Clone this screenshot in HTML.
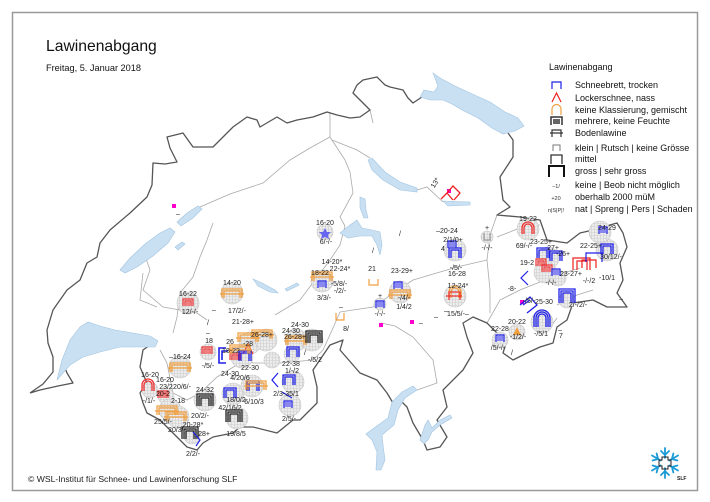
<!DOCTYPE html>
<html>
<head>
<meta charset="utf-8">
<style>
  html,body{margin:0;padding:0;background:#fff;}
  body{width:710px;height:502px;overflow:hidden;}
  svg{display:block;}
  .t{font-family:"Liberation Sans",Arial,sans-serif;font-size:7px;fill:#222;text-anchor:middle;}
  .lg{font-family:"Liberation Sans",Arial,sans-serif;font-size:9px;fill:#111;}
  .sm{font-family:"Liberation Sans",Arial,sans-serif;font-size:5.5px;fill:#333;text-anchor:middle;}
</style>
</head>
<body>
<svg width="710" height="502" viewBox="0 0 710 502" xmlns="http://www.w3.org/2000/svg">
  <defs>
    <pattern id="hatch" width="3" height="3" patternUnits="userSpaceOnUse">
      <rect width="3" height="3" fill="#ececec"/>
      <path d="M0,0.5 H3 M0.5,0 V3" stroke="#cfcfcf" stroke-width="0.6"/>
    </pattern>
    <g id="c11"><circle r="11" fill="url(#hatch)" stroke="#c4c4c4" stroke-width="0.6"/></g>
    <g id="c8"><circle r="8" fill="url(#hatch)" stroke="#c4c4c4" stroke-width="0.6"/></g>
    <g id="c6"><circle r="6" fill="url(#hatch)" stroke="#c4c4c4" stroke-width="0.6"/></g>
    <g id="bB"><path d="M-6,5 V-5 H6 V5 M-4,5 V-3 H4 V5" fill="none" stroke="#2020e8" stroke-width="1.3"/></g>
    <g id="bBL"><path d="M-8,7 V-7 H8 V7 M-6,7 V-5 H6 V7 M-4,7 V-3 H4 V7" fill="none" stroke="#2020e8" stroke-width="1.3"/></g>
    <g id="bBs"><path d="M-4,4 V-3 H4 V4" fill="none" stroke="#2020e8" stroke-width="1.2"/><rect x="-3" y="-2" width="6" height="5" fill="#8888f0"/></g>
    <g id="bO"><path d="M-10,5 V-4 H10 V5 M-8,5 V-2 H8 V5 M-12,1 H12" fill="none" stroke="#f0a040" stroke-width="1.3"/></g>
    <g id="bOs"><path d="M-5,4 V-3 H5 V4 M-7,1 H7" fill="none" stroke="#f0a040" stroke-width="1.2"/></g>
    <g id="bK"><path d="M-8,6 V-6 H8 V6 M-6,6 V-4 H6 V6 M-4,6 V-2 H4 V6" fill="none" stroke="#222" stroke-width="1.3"/></g>
    <g id="bR"><path d="M-5,4 V-3 H5 V4 M-3,4 V-1 H3 V4" fill="none" stroke="#ee3030" stroke-width="1.2"/><rect x="-2" y="0" width="4" height="4" fill="#f08080"/></g>
    <g id="aR"><path d="M-6,6 V0 A6,6 0 0 1 6,0 V6 M-4,6 V0 A4,4 0 0 1 4,0 V6" fill="none" stroke="#ee3030" stroke-width="1.3"/></g>
    <g id="aO"><path d="M-6,6 V0 A6,6 0 0 1 6,0 V6 M-4,6 V0 A4,4 0 0 1 4,0 V6" fill="none" stroke="#f0a040" stroke-width="1.3"/></g>
    <g id="aB"><path d="M-8,9 V0 A8,8 0 0 1 8,0 V9 M-6,9 V0 A6,6 0 0 1 6,0 V9 M-4,9 V0 A4,4 0 0 1 4,0 V9" fill="none" stroke="#2020e8" stroke-width="1.3"/></g>
  </defs>

  <!-- frame -->
  <rect x="12.5" y="12.5" width="685" height="478" fill="#fff" stroke="#9a9a9a" stroke-width="1.5"/>

  <!-- title -->
  <text x="46" y="51" style="font-family:'Liberation Sans',Arial,sans-serif;font-size:15.7px;fill:#111;">Lawinenabgang</text>
  <text x="46" y="71" style="font-family:'Liberation Sans',Arial,sans-serif;font-size:9.2px;fill:#111;">Freitag, 5. Januar 2018</text>

  <!-- canton borders -->
  <g fill="none" stroke="#aaaaaa" stroke-width="0.8">
    <path d="M330,113 L330,137 L310,148 L290,160 L263,183 L230,194 L200,207 L190,216"/>
    <path d="M330,137 L345,160 L350,172 L353,193 L340,217 L345,226"/>
    <path d="M332,140 L357,150 L370,158"/>
    <path d="M370,110 L373,123"/>
    <path d="M417,190 L427,187 L443,202"/>
    <path d="M143,273 L140,300 L157,307"/>
    <path d="M173,333 L177,317 L180,293 L193,277 L200,257 L207,240 L213,223"/>
    <path d="M160,350 L167,363 L173,393 L187,400 L200,393 L217,377 L245,360 L253,363 L280,363 L313,360 L323,350 L333,328 L340,312"/>
    <path d="M340,312 L373,307 L413,280 L457,267 L487,260"/>
    <path d="M381,323 L395,326 L413,337 L433,360 L437,383 L417,390"/>
    <path d="M497,215 L490,235 L487,260 L490,290 L490,313"/>
    <path d="M143,250 L150,270 L143,290 L163,307 L197,313 L207,320"/>
    <path d="M345,226 L340,245 L330,260 L300,300 L275,315"/>
    <path d="M487,323 L500,300 L520,290 L540,282 L557,275 L580,268"/>
    <path d="M557,305 L577,295 L593,290"/>
    <path d="M557,318 L547,332"/>
    <path d="M497,237 L520,228 L540,225"/>
  </g>

  <!-- country outline -->
  <path fill="none" stroke="#555" stroke-width="1.3" stroke-linejoin="round" d="
    M30,393 L43,384 L53,372 L53,357 L48,343 L47,330 L53,310 L67,290 L80,280 L87,263 L97,257 L100,243 L110,230 L130,213 L147,197 L152,185
    L153,163 L165,164 L177,162 L170,148 L167,137 L183,133 L193,147 L213,147 L227,133 L233,127 L247,117 L257,120 L260,127 L277,117 L287,123 L297,120 L313,117 L327,112 L337,115 L350,118 L360,117 L370,110 L363,103 L353,93 L357,85 L363,80 L377,77 L385,85 L390,87 L403,90 L408,98 L413,103 L422,97
    M508,133 L513,140 L513,157 L500,177 L503,200 L510,207 L497,215 L520,217 L540,220 L547,240 L567,243 L580,233 L593,230 L603,227 L617,223 L623,233 L627,247 L620,263 L623,280 L617,293 L627,307 L607,307 L593,300 L573,303 L567,320 L557,327 L553,343 L540,347 L527,353 L513,360 L503,353 L507,340 L497,333 L487,323 L473,317 L463,323 L467,337 L473,353 L463,370 L443,390 L447,407 L437,420 L447,437 L440,447 L427,450 L423,440 L413,423 L407,407 L400,400 L393,403 L387,393 L377,380 L360,373 L340,350 L343,340 L330,345 L313,370 L317,387 L317,403 L300,420 L293,420 L277,433 L253,427 L240,427 L233,433 L213,437 L203,443 L197,450 L187,447 L180,440 L167,427 L160,420 L147,413 L143,403 L140,393 L147,383 L140,367 L143,350 L150,345
    M65,368 L67,373 L73,383 L58,386 L40,390 L30,393"/>

  <!-- lakes -->
  <g fill="#c9e0f3" stroke="#a2c4e0" stroke-width="0.6">
    <path d="M57,380 L62,360 L70,340 L80,327 L88,322 L100,326 L115,330 L133,333 L150,336 L158,341 L155,347 L140,347 L120,347 L100,352 L83,357 L70,365 Z"/>
    <path d="M120,270 L130,258 L145,244 L160,233 L170,228 L175,232 L168,243 L153,256 L137,267 L125,273 Z"/>
    <path d="M177,222 L187,213 L198,206 L202,209 L193,218 L181,226 Z"/>
    <path d="M175,247 L182,242 L185,244 L178,250 Z"/>
    <path d="M368,160 L372,158 L385,172 L400,182 L417,188 L417,192 L400,190 L383,180 L372,170 Z"/>
    <path d="M443,201 L470,202 L470,205 L448,206 Z"/>
    <path d="M360,197 L365,199 L366,210 L368,218 L364,218 L360,208 Z"/>
    <path d="M340,233 L350,225 L357,220 L362,228 L372,230 L380,232 L382,245 L380,255 L377,245 L372,236 L360,236 L348,238 Z"/>
    <path d="M253,279 L262,283 L275,290 L278,293 L270,292 L258,286 Z"/>
    <path d="M285,289 L297,283 L299,285 L287,291 Z"/>
    <path d="M413,386 L417,390 L405,398 L398,410 L394,425 L382,435 L383,445 L385,460 L381,470 L376,470 L377,452 L372,440 L366,434 L374,428 L388,418 L392,402 L402,392 Z"/>
    <path d="M420,440 L425,425 L428,420 L432,428 L440,420 L450,415 L452,418 L440,425 L432,432 L428,440 L424,444 Z"/>
    <path d="M433,73 L440,78 L455,86 L470,93 L490,102 L505,112 L518,118 L524,126 L515,131 L503,134 L492,128 L478,118 L462,110 L452,104 L443,100 L430,100 L420,97 L424,90 L434,92 L438,86 Z"/>
  </g>

  <!-- pink markers -->
  <g fill="#ff00cc">
    <rect x="172" y="204" width="4" height="4"/>
    <rect x="447" y="189" width="4" height="4"/>
    <rect x="379" y="323" width="4" height="4"/>
    <rect x="410" y="320" width="4" height="4"/>
    <rect x="520" y="300" width="4" height="4"/>
  </g>

  <!-- stations: circles -->
  <use href="#c11" x="188" y="303"/>
  <use href="#c11" x="232" y="293"/>
  <use href="#c11" x="180" y="367"/>
  <use href="#c8" x="208" y="352"/>
  <use href="#c11" x="250" y="343"/>
  <use href="#c11" x="266" y="340"/>
  <use href="#c11" x="242" y="357"/>
  <use href="#c8" x="272" y="360"/>
  <use href="#c11" x="233" y="394"/>
  <use href="#c11" x="252" y="386"/>
  <use href="#c11" x="205" y="400"/>
  <use href="#c11" x="237" y="418"/>
  <use href="#c8" x="166" y="396"/>
  <use href="#c11" x="170" y="410"/>
  <use href="#c11" x="178" y="417"/>
  <use href="#c8" x="192" y="436"/>
  <use href="#c11" x="296" y="340"/>
  <use href="#c11" x="312" y="340"/>
  <use href="#c8" x="292" y="354"/>
  <use href="#c11" x="293" y="382"/>
  <use href="#c11" x="290" y="405"/>
  <use href="#c11" x="322" y="281"/>
  <use href="#c8" x="325" y="232"/>
  <use href="#c11" x="400" y="292"/>
  <use href="#c6" x="380" y="304"/>
  <use href="#c11" x="455" y="250"/>
  <use href="#c11" x="455" y="296"/>
  <use href="#c6" x="487" y="237"/>
  <use href="#c11" x="528" y="229"/>
  <use href="#c11" x="548" y="258"/>
  <use href="#c11" x="545" y="272"/>
  <use href="#c8" x="558" y="278"/>
  <use href="#c11" x="607" y="250"/>
  <use href="#c11" x="600" y="232"/>
  <use href="#c8" x="567" y="300"/>
  <use href="#c11" x="542" y="322"/>
  <use href="#c8" x="517" y="332"/>
  <use href="#c8" x="500" y="340"/>
  <use href="#c8" x="150" y="390"/>

  <!-- stations: symbols -->
  <use href="#bR" x="188" y="302"/>
  <use href="#bO" x="232" y="293"/>
  <use href="#bO" x="180" y="367"/>
  <use href="#bR" x="207" y="350"/>
  <use href="#aR" x="148" y="385"/>
  <use href="#bO" x="248" y="337"/>
  <use href="#bO" x="262" y="334"/>
  <path d="M243,354 L248,344 L253,354" fill="none" stroke="#ee3030" stroke-width="1.2"/>
  <path d="M226,348 H219 V363 H226 M228,351 H222 V360" fill="none" stroke="#2020e8" stroke-width="1.6"/>
  <use href="#bR" x="235" y="356"/>
  <use href="#bB" x="245" y="356"/>
  <use href="#bO" x="240" y="349"/>
  <use href="#bB" x="230" y="393"/>
  <use href="#bB" x="253" y="386"/>
  <use href="#bO" x="256" y="385"/>
  <use href="#bK" x="205" y="400"/>
  <use href="#bK" x="234" y="416"/>
  <use href="#bR" x="163" y="394"/>
  <use href="#bO" x="167" y="410"/>
  <use href="#bO" x="176" y="416"/>
  <use href="#bK" x="190" y="433"/>
  <path d="M193,432 L200,440 L196,446" fill="none" stroke="#2020e8" stroke-width="1.2"/>
  <use href="#bO" x="296" y="340"/>
  <use href="#bK" x="314" y="337"/>
  <use href="#bB" x="293" y="352"/>
  <use href="#bB" x="289" y="380"/>
  <path d="M278,373 L272,380 L278,387" fill="none" stroke="#2020e8" stroke-width="1.2"/>
  <use href="#bBs" x="288" y="404"/>
  <path d="M282,392 L292,398" stroke="#2020e8" stroke-width="1.2"/>
  <use href="#bO" x="322" y="276"/>
  <use href="#bBs" x="322" y="284"/>
  <path d="M336,313 V320 H344 V313" fill="none" stroke="#f0a040" stroke-width="1.2"/>
  <path d="M325,228 L327,232 L331,232 L328,235 L329,239 L325,237 L321,239 L322,235 L319,232 L323,232 Z" fill="#6666ee"/>
  <path d="M369,279 V285 H378 V279" fill="none" stroke="#f0a040" stroke-width="1.2"/>
  <use href="#bO" x="400" y="294"/>
  <use href="#bBs" x="398" y="285"/>
  <use href="#bBs" x="380" y="304"/>
  <use href="#bB" x="455" y="253"/>
  <use href="#bBs" x="452" y="244"/>
  <use href="#aO" x="455" y="292"/>
  <path d="M446,296 H462 M449,300 V292 H460 V300" fill="none" stroke="#ee3030" stroke-width="1.2"/>
  <path d="M484,233 V240 H490 V233" fill="none" stroke="#888" stroke-width="1"/>
  <path d="M441,199 L447,193 M447,193 L453,186 L460,193 L454,200 M447,193 L453,200" fill="none" stroke="#ee2020" stroke-width="1.3"/>
  <use href="#aR" x="528" y="228"/>
  <use href="#bB" x="543" y="253"/>
  <use href="#bB" x="556" y="256"/>
  <use href="#bR" x="541" y="262"/>
  <use href="#bR" x="547" y="268"/>
  <use href="#bBs" x="556" y="272"/>
  <path d="M528,271 L521,278 L528,285" fill="none" stroke="#2020e8" stroke-width="1.2"/>
  <use href="#bB" x="607" y="249"/>
  <use href="#bBs" x="603" y="230"/>
  <path d="M573,270 V258 H590 V270 M577,270 V261 H587 V270 M582,268 V260 H596 V268" fill="none" stroke="#ee2020" stroke-width="1.2"/>
  <path d="M586,262 V253 H602 V262" fill="none" stroke="#2020e8" stroke-width="1.2"/>
  <use href="#bBL" x="567" y="296"/>
  <use href="#aB" x="542" y="318"/>
  <path d="M520,305 L530,297 L537,305 L527,313 M523,305 L530,300" fill="none" stroke="#2020e8" stroke-width="1.3"/>
  <path d="M513,335 L517,327 L521,335 Z" fill="#f0a040"/>
  <use href="#bBs" x="500" y="338"/>

  <!-- station labels -->
  <g class="t">
    <text x="188" y="296">16-22</text><text x="190" y="314">12/-/-</text>
    <text x="232" y="285">14-20</text><text x="237" y="313">17/2/-</text><text x="214" y="312">–</text>
    <text x="243" y="324">21-28+</text><text x="208" y="325">/</text>
    <text x="208" y="335">–</text><text x="209" y="343">18</text><text x="208" y="368">-/5/-</text>
    <text x="180" y="359">–16-24</text>
    <text x="150" y="377">16-20</text><text x="165" y="382">16-20</text>
    <text x="166" y="389">23/2</text><text x="182" y="389">20/6/-</text>
    <text x="163" y="396">20-2</text><text x="178" y="403">2-18</text><text x="149" y="403">-/1/-</text>
    <text x="163" y="424">25/5/-</text><text x="177" y="432">20/3/-</text>
    <text x="193" y="427">20-28*</text><text x="204" y="436">28+</text><text x="193" y="456">2/2/-</text>
    <text x="205" y="392">24-32</text><text x="200" y="418">20/2/-</text>
    <text x="230" y="410">42/16/2</text><text x="236" y="436">19/8/5</text>
    <text x="236" y="402">18/0/2</text><text x="254" y="404">6/10/3</text>
    <text x="262" y="337">26-28+</text><text x="230" y="344">26</text><text x="248" y="346">-28</text>
    <text x="231" y="353">18-22</text><text x="250" y="370">22-30</text>
    <text x="230" y="376">24-30</text><text x="240" y="380">4/20/6</text>
    <text x="300" y="327">24-30</text><text x="291" y="333">24-30</text><text x="295" y="339">26-28+</text>
    <text x="315" y="362">-/5/2</text>
    <text x="291" y="366">22-38</text><text x="292" y="373">1/-/2</text>
    <text x="286" y="396">2/3-35/1</text><text x="289" y="421">2/5/-</text>
    <text x="332" y="264">14-20*</text><text x="340" y="271">22-24*</text><text x="320" y="275">18-22</text>
    <text x="339" y="286">-5/8/-</text><text x="340" y="293">-/2/-</text><text x="324" y="300">3/3/-</text>
    <text x="341" y="309">–</text><text x="346" y="331">8/</text>
    <text x="325" y="225">16-20</text><text x="326" y="244">6/-/-</text>
    <text x="372" y="271">21</text>
    <text x="402" y="273">23-29+</text><text x="404" y="300">-/4/-</text><text x="404" y="309">1/4/2</text>
    <text x="380" y="298">+</text><text x="380" y="316">-/-/-</text>
    <text x="447" y="233">–20-24</text><text x="453" y="242">2/1/0+</text><text x="443" y="251">4</text>
    <text x="456" y="270">-/5/-</text>
    <text x="457" y="276">16-28</text><text x="458" y="288">12-24*</text><text x="456" y="316">15/5/-</text>
    <text x="446" y="313">–</text><text x="467" y="316">–</text>
    <text x="487" y="230">+</text><text x="487" y="250">-/-/-</text>
    <text x="437" y="184" transform="rotate(-60 437 184)">13*</text>
    <text x="528" y="221">19-22</text><text x="524" y="248">69/-/-</text>
    <text x="541" y="244">23-25+</text><text x="553" y="250">27+</text>
    <text x="563" y="256">-26+</text><text x="527" y="265">19-2</text>
    <text x="551" y="285">-/-/-</text><text x="571" y="276">23-27+</text>
    <text x="512" y="291">-8-</text><text x="529" y="303">-/5/-</text>
    <text x="607" y="230">24-29</text><text x="591" y="248">22-25+</text><text x="611" y="259">30/12/-</text>
    <text x="589" y="283">-/-/2</text><text x="607" y="280">-10/1</text>
    <text x="578" y="307">2/-/2/-</text>
    <text x="544" y="304">25-30</text><text x="541" y="336">-/5/1</text>
    <text x="517" y="324">20-22</text><text x="518" y="339">-1/2/-</text>
    <text x="500" y="331">22-28</text><text x="498" y="350">/5/-/-</text>
    <text x="561" y="338">7</text><text x="560" y="332">–</text><text x="621" y="301">–</text>
    <text x="178" y="216">–</text>
    <text x="400" y="236">/</text><text x="373" y="253">/</text><text x="512" y="355">/</text>
    <text x="305" y="355">/</text><text x="421" y="325">–</text><text x="436" y="319">–</text>
  </g>

  <!-- legend -->
  <text class="lg" x="549" y="70">Lawinenabgang</text>
  <g fill="none" stroke-width="1.2">
    <path d="M552,89 V82 H561 V89" stroke="#2020e8"/>
    <path d="M552,102 L556.5,93 L561,102" stroke="#ee2020"/>
    <path d="M552,115 V109 A4.5,4.5 0 0 1 561,109 V115" stroke="#f0a040"/>
    <path d="M551,125 V117 H562 V125" stroke="#333" stroke-width="1.5"/>
    <path d="M550,133 H563 M552,137 V130 H561 V137" stroke="#333"/>
    <path d="M553,151 V145 H560 V151" stroke="#777" stroke-width="1"/>
    <path d="M551,164 V155 H562 V164" stroke="#333" stroke-width="1.3"/>
    <path d="M549,177 V166 H564 V177" stroke="#111" stroke-width="2"/>
  </g>
  <rect x="553" y="119" width="7" height="5" fill="#666"/>
  <text class="sm" x="556" y="188">−1/</text>
  <text class="sm" x="556" y="200">+20</text>
  <text class="sm" x="556" y="212">n|S|P|!</text>
  <g class="lg">
    <text x="575" y="88">Schneebrett, trocken</text>
    <text x="575" y="101">Lockerschnee, nass</text>
    <text x="575" y="113">keine Klassierung, gemischt</text>
    <text x="575" y="124">mehrere, keine Feuchte</text>
    <text x="575" y="136">Bodenlawine</text>
    <text x="575" y="151">klein | Rutsch | keine Grösse</text>
    <text x="575" y="162">mittel</text>
    <text x="575" y="174">gross | sehr gross</text>
    <text x="575" y="188">keine | Beob nicht möglich</text>
    <text x="575" y="200">oberhalb 2000 müM</text>
    <text x="575" y="212">nat | Spreng | Pers | Schaden</text>
  </g>

  <!-- footer -->
  <text x="28" y="482" style="font-family:'Liberation Sans',Arial,sans-serif;font-size:8.6px;fill:#222;">© WSL-Institut für Schnee- und Lawinenforschung SLF</text>

  <!-- SLF logo -->
  <g transform="translate(665,463)" fill="none" stroke="#1a9ad6" stroke-width="1.8" stroke-linecap="round">
    <path d="M0,-15 V-5 M-4,-12 L0,-8 L4,-12"/>
    <path d="M0,15 V5 M-4,12 L0,8 L4,12"/>
    <g transform="rotate(60)"><path d="M0,-15 V-5 M-4,-12 L0,-8 L4,-12"/><path d="M0,15 V5 M-4,12 L0,8 L4,12"/></g>
    <g transform="rotate(-60)"><path d="M0,-15 V-5 M-4,-12 L0,-8 L4,-12"/><path d="M0,15 V5 M-4,12 L0,8 L4,12"/></g>
    <path d="M-3,-6 H3 V-3 H6 V3 H3 V6 H-3 V3 H-6 V-3 H-3 Z" stroke="#222" stroke-width="1"/>
  </g>
  <text x="677" y="480" style="font-family:'Liberation Sans',Arial,sans-serif;font-size:5px;font-weight:bold;fill:#222;">SLF</text>
</svg>
</body>
</html>
